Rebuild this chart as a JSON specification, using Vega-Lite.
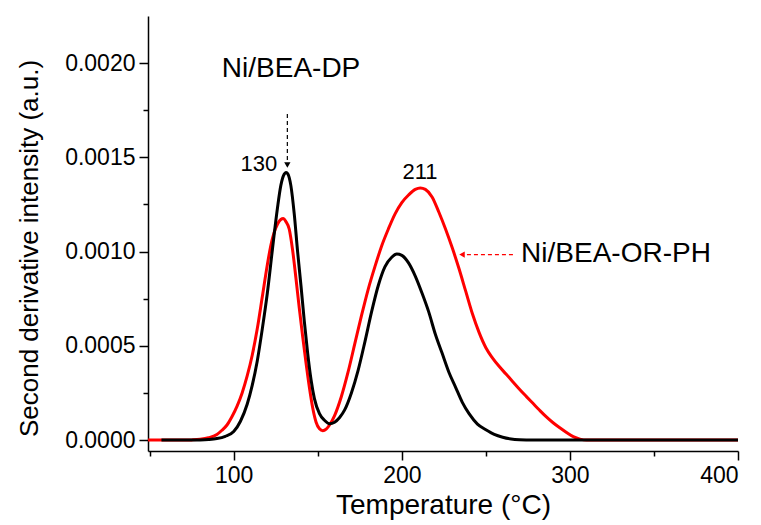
{
  "$schema": "https://vega.github.io/schema/vega-lite/v6.json",
  "width": 590,
  "height": 435,
  "autosize": {"type": "none"},
  "padding": {"left": 148, "top": 16, "right": 23, "bottom": 74},
  "background": "white",
  "config": {
    "view": {"stroke": null},
    "font": "Liberation Sans",
    "axis": {
      "grid": false,
      "domainColor": "black",
      "domainWidth": 1.5,
      "tickColor": "black",
      "tickWidth": 1.5,
      "labelColor": "black",
      "titleColor": "black",
      "labelFont": "Liberation Sans",
      "titleFont": "Liberation Sans",
      "titleFontWeight": "normal",
      "labelOverlap": false
    }
  },
  "datasets": {
    "red": [
      {"T": 49, "I": 0}, {"T": 60, "I": 0}, {"T": 70, "I": 0}, {"T": 75, "I": 0.000001},
      {"T": 80, "I": 0.000004}, {"T": 85, "I": 0.000012}, {"T": 90, "I": 0.00003},
      {"T": 93, "I": 0.000052}, {"T": 96, "I": 0.00008}, {"T": 99, "I": 0.000125},
      {"T": 102, "I": 0.00018}, {"T": 105, "I": 0.00025}, {"T": 108, "I": 0.00034},
      {"T": 111, "I": 0.00045}, {"T": 114, "I": 0.00059}, {"T": 117, "I": 0.00076},
      {"T": 120, "I": 0.00093}, {"T": 122, "I": 0.00103}, {"T": 124, "I": 0.0011},
      {"T": 126, "I": 0.001145}, {"T": 128, "I": 0.00117}, {"T": 129.5, "I": 0.001175},
      {"T": 131, "I": 0.00116}, {"T": 133, "I": 0.00112}, {"T": 135, "I": 0.00101},
      {"T": 137, "I": 0.00086}, {"T": 139, "I": 0.0007}, {"T": 141, "I": 0.00055},
      {"T": 143, "I": 0.00041}, {"T": 145, "I": 0.00028}, {"T": 147, "I": 0.00017},
      {"T": 149, "I": 0.000095}, {"T": 151, "I": 0.00006}, {"T": 153, "I": 0.00005},
      {"T": 155, "I": 0.000058}, {"T": 157, "I": 0.00008}, {"T": 160, "I": 0.00013},
      {"T": 164, "I": 0.00023}, {"T": 168, "I": 0.00036}, {"T": 172, "I": 0.00051},
      {"T": 176, "I": 0.00066}, {"T": 180, "I": 0.0008}, {"T": 184, "I": 0.00092},
      {"T": 188, "I": 0.00103}, {"T": 192, "I": 0.00112}, {"T": 196, "I": 0.0012},
      {"T": 200, "I": 0.00126}, {"T": 204, "I": 0.0013}, {"T": 208, "I": 0.00133},
      {"T": 211, "I": 0.001338}, {"T": 214, "I": 0.00133}, {"T": 218, "I": 0.00129},
      {"T": 222, "I": 0.00121}, {"T": 226, "I": 0.00112}, {"T": 230, "I": 0.00102},
      {"T": 234, "I": 0.00091}, {"T": 238, "I": 0.00079}, {"T": 242, "I": 0.00067},
      {"T": 246, "I": 0.00057}, {"T": 250, "I": 0.00049}, {"T": 254, "I": 0.000435},
      {"T": 258, "I": 0.00039}, {"T": 262, "I": 0.00035}, {"T": 266, "I": 0.00031},
      {"T": 270, "I": 0.00027}, {"T": 274, "I": 0.000232}, {"T": 278, "I": 0.000195},
      {"T": 282, "I": 0.000158}, {"T": 286, "I": 0.000123}, {"T": 290, "I": 0.000092},
      {"T": 294, "I": 0.000065}, {"T": 298, "I": 0.00004}, {"T": 302, "I": 0.000018},
      {"T": 306, "I": 0.000005}, {"T": 310, "I": 0}, {"T": 350, "I": 0}, {"T": 400, "I": 0}
    ],
    "black": [
      {"T": 57, "I": 0}, {"T": 70, "I": 0}, {"T": 80, "I": 0.000001}, {"T": 85, "I": 0.000003},
      {"T": 90, "I": 0.000008}, {"T": 95, "I": 0.00002}, {"T": 100, "I": 0.000045},
      {"T": 104, "I": 0.0001}, {"T": 108, "I": 0.00019}, {"T": 111, "I": 0.00029},
      {"T": 114, "I": 0.00042}, {"T": 117, "I": 0.00059}, {"T": 120, "I": 0.00078},
      {"T": 123, "I": 0.00101}, {"T": 126, "I": 0.00123}, {"T": 128, "I": 0.00135},
      {"T": 130, "I": 0.00141}, {"T": 131, "I": 0.00142}, {"T": 132, "I": 0.001415},
      {"T": 134, "I": 0.00135}, {"T": 136, "I": 0.0012}, {"T": 138, "I": 0.001},
      {"T": 140, "I": 0.00082}, {"T": 142, "I": 0.00063}, {"T": 144, "I": 0.00046},
      {"T": 146, "I": 0.00032}, {"T": 148, "I": 0.00022}, {"T": 151, "I": 0.00014},
      {"T": 154, "I": 0.000105}, {"T": 157, "I": 0.000087}, {"T": 160, "I": 0.000095},
      {"T": 163, "I": 0.00012}, {"T": 166, "I": 0.00016}, {"T": 170, "I": 0.00025},
      {"T": 174, "I": 0.00037}, {"T": 178, "I": 0.00052}, {"T": 182, "I": 0.00068},
      {"T": 186, "I": 0.00082}, {"T": 190, "I": 0.00092}, {"T": 194, "I": 0.00097},
      {"T": 197, "I": 0.000987}, {"T": 200, "I": 0.00098}, {"T": 204, "I": 0.00094},
      {"T": 208, "I": 0.00087}, {"T": 212, "I": 0.00078}, {"T": 216, "I": 0.00068},
      {"T": 220, "I": 0.00056}, {"T": 224, "I": 0.00046}, {"T": 228, "I": 0.00036},
      {"T": 232, "I": 0.00028}, {"T": 236, "I": 0.0002}, {"T": 240, "I": 0.00014},
      {"T": 245, "I": 0.000085}, {"T": 250, "I": 0.000055}, {"T": 255, "I": 0.00003},
      {"T": 260, "I": 0.000015}, {"T": 265, "I": 0.000006}, {"T": 270, "I": 0.000002},
      {"T": 278, "I": 0}, {"T": 300, "I": 0}, {"T": 350, "I": 0}, {"T": 400, "I": 0}
    ],
    "bigLabels": [
      {"T": 134.1, "I": 0.00197, "text": "Ni/BEA-DP"},
      {"T": 327.4, "I": 0.000986, "text": "Ni/BEA-OR-PH"}
    ],
    "smallLabels": [
      {"T": 115.0, "I": 0.001466, "text": "130"},
      {"T": 210.8, "I": 0.001424, "text": "211"}
    ],
    "blackArrow": [{"T": 131.9, "T2": 131.9, "I": 0.00173, "I2": 0.00148}],
    "blackHead": [{"T": 131.9, "I": 0.00146}],
    "redArrow": [{"T": 266.1, "T2": 237.5, "I": 0.000984, "I2": 0.000984}],
    "redHead": [{"T": 235.8, "I": 0.000984}]
  },
  "layer": [
    {
      "data": {"name": "red"},
      "mark": {"type": "line", "color": "#ff0000", "strokeWidth": 3, "interpolate": "monotone"},
      "encoding": {
        "x": {
          "field": "T", "type": "quantitative",
          "scale": {"domain": [49, 400], "nice": false, "zero": false},
          "axis": {
            "title": "Temperature (°C)",
            "values": [50, 100, 150, 200, 250, 300, 350, 400],
            "labelExpr": "datum.value % 100 === 0 ? datum.label : ''",
            "format": "d",
            "tickSize": {"condition": {"test": "datum.value % 100 === 0", "value": 9}, "value": 5},
            "labelFontSize": 23,
            "labelPadding": 4,
            "titleFontSize": 28,
            "titlePadding": 4
          }
        },
        "y": {
          "field": "I", "type": "quantitative",
          "scale": {"domain": [-0.000058, 0.00225], "nice": false, "zero": false},
          "axis": {
            "title": "Second derivative intensity (a.u.)",
            "values": [0, 0.00025, 0.0005, 0.00075, 0.001, 0.00125, 0.0015, 0.00175, 0.002],
            "labelExpr": "round(datum.value * 4000) % 2 === 0 ? format(datum.value, '.4f') : ''",
            "tickSize": {"condition": {"test": "round(datum.value * 4000) % 2 === 0", "value": 9}, "value": 5},
            "labelFontSize": 23,
            "labelPadding": 4,
            "titleFontSize": 26,
            "titlePadding": 22,
            "titleY": 232
          }
        }
      }
    },
    {
      "data": {"name": "black"},
      "mark": {"type": "line", "color": "#000000", "strokeWidth": 3, "interpolate": "monotone"},
      "encoding": {
        "x": {"field": "T", "type": "quantitative"},
        "y": {"field": "I", "type": "quantitative"}
      }
    },
    {
      "data": {"name": "blackArrow"},
      "mark": {"type": "rule", "color": "black", "strokeWidth": 1.2, "strokeDash": [4, 3]},
      "encoding": {
        "x": {"field": "T", "type": "quantitative"},
        "y": {"field": "I", "type": "quantitative"},
        "y2": {"field": "I2"}
      }
    },
    {
      "data": {"name": "blackHead"},
      "mark": {"type": "point", "shape": "triangle-down", "filled": true, "color": "black", "size": 40, "opacity": 1},
      "encoding": {
        "x": {"field": "T", "type": "quantitative"},
        "y": {"field": "I", "type": "quantitative"}
      }
    },
    {
      "data": {"name": "redArrow"},
      "mark": {"type": "rule", "color": "#ff0000", "strokeWidth": 1.2, "strokeDash": [4, 3]},
      "encoding": {
        "x": {"field": "T", "type": "quantitative"},
        "x2": {"field": "T2"},
        "y": {"field": "I", "type": "quantitative"}
      }
    },
    {
      "data": {"name": "redHead"},
      "mark": {"type": "point", "shape": "triangle-left", "filled": true, "color": "#ff0000", "size": 40, "opacity": 1},
      "encoding": {
        "x": {"field": "T", "type": "quantitative"},
        "y": {"field": "I", "type": "quantitative"}
      }
    },
    {
      "data": {"name": "bigLabels"},
      "mark": {"type": "text", "font": "Liberation Sans", "fontSize": 28, "color": "black", "align": "center", "baseline": "middle"},
      "encoding": {
        "x": {"field": "T", "type": "quantitative"},
        "y": {"field": "I", "type": "quantitative"},
        "text": {"field": "text"}
      }
    },
    {
      "data": {"name": "smallLabels"},
      "mark": {"type": "text", "font": "Liberation Sans", "fontSize": 22, "color": "black", "align": "center", "baseline": "middle"},
      "encoding": {
        "x": {"field": "T", "type": "quantitative"},
        "y": {"field": "I", "type": "quantitative"},
        "text": {"field": "text"}
      }
    }
  ]
}
